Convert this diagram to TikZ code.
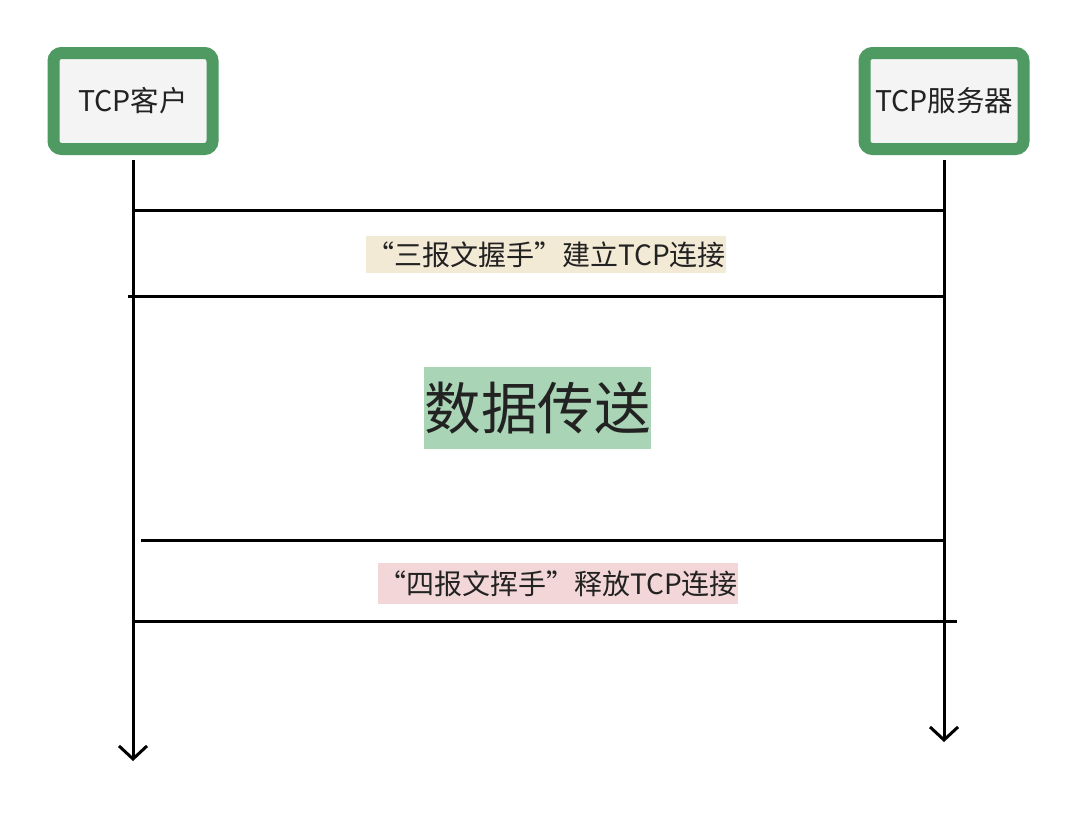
\documentclass[tikz,border=0pt]{standalone}
\usepackage{fontspec}
\setmainfont{Noto Sans CJK SC}
\usetikzlibrary{arrows.meta}
\definecolor{hostgreen}{HTML}{4E9A62}
\definecolor{hostfill}{HTML}{F4F4F4}
\definecolor{synbg}{HTML}{F3EAD6}
\definecolor{databg}{HTML}{A9D4B5}
\definecolor{finbg}{HTML}{F3D6D7}
\definecolor{ink}{HTML}{222222}
\tikzset{
  host/.style={draw=hostgreen,fill=hostfill,line width=12pt,rounded corners=8pt,minimum width=159pt,minimum height=96pt,inner sep=0pt,text=ink,font=\fontsize{28.5}{32}\selectfont},
  life/.style={line width=3pt,-{Straight Barb[length=13pt,width=28pt]}},
  msg/.style={line width=3pt},
  tag/.style={inner sep=0pt,text=ink,font=\fontsize{28}{32}\selectfont}
}

\begin{document}
\begin{tikzpicture}[x=1pt,y=-1pt]
\useasboundingbox (0,0) rectangle (1078,828);
\node[host] (cli) at (133,101) {TCP客户};
\node[host] (srv) at (944,101) {TCP服务器};
\draw[life] ([yshift=-5pt]cli.south) -- (133,761) coordinate (cliend);
\draw[life] ([yshift=-5pt]srv.south) -- (944,742) coordinate (srvend);
% connection setup
\coordinate (s1a) at (133,210); \coordinate (s1b) at (944,210);
\coordinate (s2a) at (128,296); \coordinate (s2b) at (944,296);
\draw[msg] (s1a) -- (s1b);
\draw[msg] (s2a) -- (s2b);
\node[tag,fill=synbg,minimum width=360pt,minimum height=37pt] (syn) at (546,254.5) {“三报文握手”建立TCP连接};
\node[tag,fill=databg,minimum width=227pt,minimum height=82pt,font=\fontsize{56.5}{62}\selectfont] (data) at (537.5,408) {数据传送};
% connection release
\coordinate (f1a) at (141,540); \coordinate (f1b) at (944,540);
\coordinate (f2a) at (133,621); \coordinate (f2b) at (957,621);
\draw[msg] (f1a) -- (f1b);
\draw[msg] (f2a) -- (f2b);
\node[tag,fill=finbg,minimum width=360pt,minimum height=41pt] (fin) at (558,583.5) {“四报文挥手”释放TCP连接};
\end{tikzpicture}
\end{document}
